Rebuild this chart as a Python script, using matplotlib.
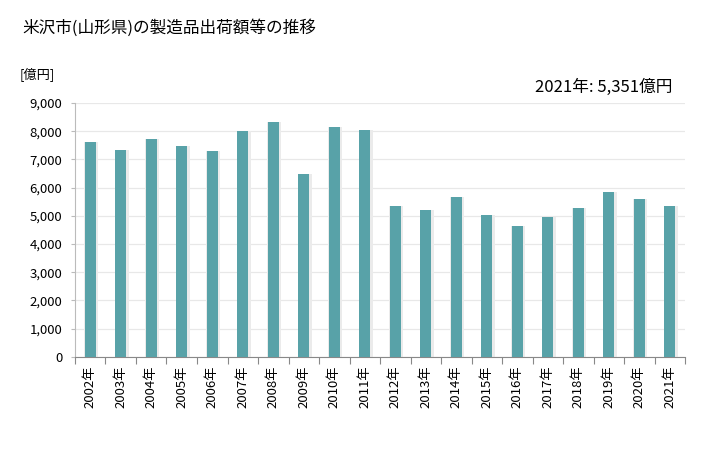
import numpy as np
import matplotlib
matplotlib.use('Agg')
import matplotlib.pyplot as plt
from matplotlib.ticker import FuncFormatter, MultipleLocator

plt.rcParams['font.family'] = ['Noto Sans CJK JP', 'DejaVu Sans']

# data (億円)
years = [str(y) + '年' for y in range(2002, 2022)]
values = [7630, 7330, 7740, 7480, 7300, 8010, 8330, 6490, 8160, 8050,
          5340, 5200, 5660, 5020, 4630, 4950, 5270, 5840, 5590, 5351]

bar_color = '#58a2a8'
shadow_color = '#ebebeb'

fig = plt.figure(figsize=(7.28, 4.5), dpi=100)
ax = fig.add_axes([0.103, 0.207, 0.838, 0.564])

x = np.arange(len(values))
# soft shadow behind each bar
ax.bar(x + 0.03, values, width=0.46, color=shadow_color, zorder=2)
ax.bar(x, values, width=0.36, color=bar_color, zorder=3)

ax.set_xlim(-0.5, len(values) - 0.5)
ax.set_ylim(0, 9000)
ax.yaxis.set_major_locator(MultipleLocator(1000))
ax.yaxis.set_major_formatter(FuncFormatter(lambda v, p: f'{int(v):,}'))
ax.grid(axis='y', color='#e8e8e8', linewidth=0.9, zorder=0)
ax.set_axisbelow(True)

# ticks on category boundaries, labels at centres
ax.set_xticks(np.arange(-0.5, len(values), 1.0))
ax.set_xticklabels([])
ax.set_xticks(x, minor=True)
ax.set_xticklabels(years, minor=True, rotation=90, fontsize=9.5)
ax.tick_params(axis='x', which='minor', length=0, pad=6)
ax.tick_params(axis='x', which='major', length=5, color='#888888')
ax.tick_params(axis='y', length=3, color='#bbbbbb', labelsize=9.5, pad=6)

for s in ['top', 'right']:
    ax.spines[s].set_visible(False)
ax.spines['left'].set_color('#bbbbbb')
ax.spines['left'].set_linestyle((0, (1, 1)))
ax.spines['bottom'].set_color('#888888')

fig.text(22 / 728, 1 - 28 / 450, '米沢市(山形県)の製造品出荷額等の推移',
         fontsize=12, va='center', ha='left')
fig.text(20 / 728, 1 - 75 / 450, '[億円]', fontsize=9.5, va='center', ha='left')
fig.text(672 / 728, 1 - 87 / 450, '2021年: 5,351億円', fontsize=12,
         va='center', ha='right')

fig.savefig('out.png', dpi=100, facecolor='white')
